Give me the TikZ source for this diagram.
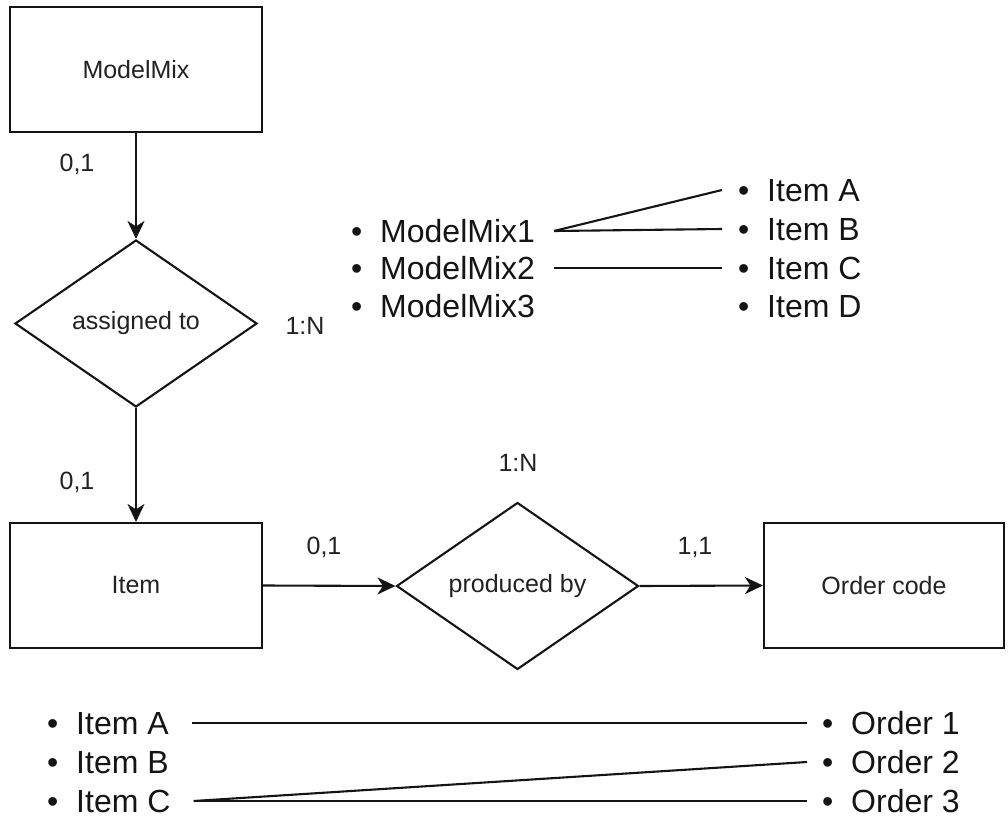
\documentclass[tikz,border=0pt]{standalone}
\usepackage{fontspec}
\setmainfont{Liberation Sans}
\usetikzlibrary{shapes.geometric,arrows.meta}
\definecolor{ink}{HTML}{141414}
\definecolor{labelink}{HTML}{222222}
\begin{document}
\begin{tikzpicture}[x=1pt,y=-1pt,line width=2.1pt,
  entity/.style={draw=ink,rectangle,minimum width=252pt,minimum height=125pt,inner sep=0pt,
    font=\fontsize{25}{30}\selectfont,text=labelink},
  relation/.style={draw=ink,diamond,aspect=1.45,minimum width=242pt,minimum height=167pt,inner sep=0pt,
    font=\fontsize{25}{30}\selectfont,text=labelink},
  card/.style={font=\fontsize{25}{30}\selectfont,text=labelink,inner sep=0pt},
  listitem/.style={anchor=west,inner sep=0pt,text height=23pt,text depth=0pt,
    font=\fontsize{32}{38}\selectfont,text=ink},
  link/.style={draw=ink,line width=2.1pt},
  flow/.style={draw=ink,line width=2.1pt,-{Stealth[length=18pt,width=17pt,inset=5.5pt]}}]
\useasboundingbox (0,0) rectangle (1008,818);

% entities and relationships
\node[entity] (modelmix) at (136,69.5) {ModelMix};
\node[relation] (assigned) at (136,323.5) {assigned to};
\node[entity] (item) at (136,585.5) {Item};
\node[relation] (produced) at (517.5,586) {produced by};
\node[entity,minimum width=240pt] (order) at (884,585.5) {Order code};

\draw[flow] (modelmix.south) -- (assigned.north);
\draw[flow] (assigned.south) -- (item.north);
\draw[flow] (item.east) -- (produced.west);
\draw[flow] (produced.east) -- (order.west);

% cardinalities
\node[card] (c1) at (77,164) {0,1};
\node[card] (c2) at (305,326) {1:N};
\node[card] (c3) at (77,482) {0,1};
\node[card] (c4) at (324,547) {0,1};
\node[card] (c5) at (518,463) {1:N};
\node[card] (c6) at (695,547) {1,1};

% example: model mixes and their items
\node[listitem] (mm1) at (350,231) {•\hspace{18pt}ModelMix1};
\node[listitem] (mm2) at (350,268) {•\hspace{18pt}ModelMix2};
\node[listitem] (mm3) at (350,306) {•\hspace{18pt}ModelMix3};
\node[listitem] (ia) at (737,190) {•\hspace{18pt}Item A};
\node[listitem] (ib) at (737,229) {•\hspace{18pt}Item B};
\node[listitem] (ic) at (737,268) {•\hspace{18pt}Item C};
\node[listitem] (id) at (737,306) {•\hspace{18pt}Item D};

\draw[link] ([xshift=18pt]mm1.east) -- ([xshift=-15pt]ia.west);
\draw[link] ([xshift=18pt]mm1.east) -- ([xshift=-15pt]ib.west);
\draw[link] ([xshift=18pt]mm2.east) -- ([xshift=-15pt]ic.west);

% example: items and their orders
\node[listitem] (ba) at (46,723) {•\hspace{18pt}Item A};
\node[listitem] (bb) at (46,762) {•\hspace{18pt}Item B};
\node[listitem] (bc) at (46,801) {•\hspace{18pt}Item C};
\node[listitem] (o1) at (821,723) {•\hspace{18pt}Order 1};
\node[listitem] (o2) at (821,762) {•\hspace{18pt}Order 2};
\node[listitem] (o3) at (821,801) {•\hspace{18pt}Order 3};

\draw[link] ([xshift=22pt]ba.east) -- ([xshift=-14pt]o1.west);
\draw[link] ([xshift=22pt]bc.east) -- ([xshift=-14pt]o2.west);
\draw[link] ([xshift=22pt]bc.east) -- ([xshift=-14pt]o3.west);
\end{tikzpicture}
\end{document}
